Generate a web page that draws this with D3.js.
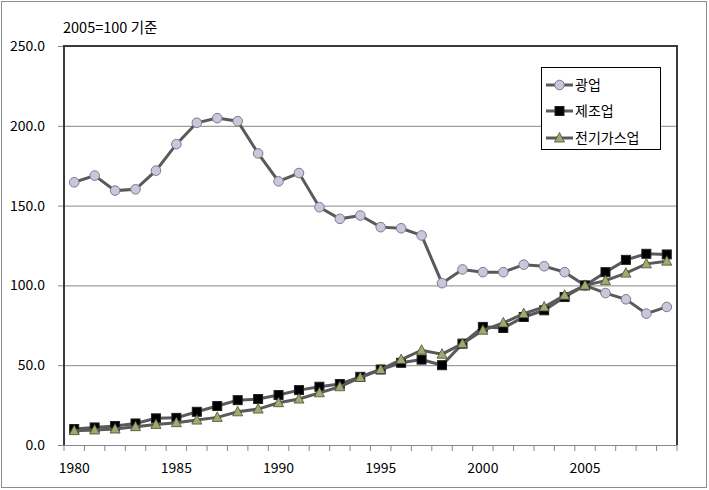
<!DOCTYPE html>
<html><head><meta charset="utf-8">
<script src="https://cdn.jsdelivr.net/npm/d3@7"></script>
<style>body{margin:0;background:#fff}text{font-family:"Noto Sans CJK KR","Noto Sans",sans-serif}</style>
</head><body><svg id="c" width="709" height="490"></svg>
<script>
const years = d3.range(1980, 2010);
const mining = [164.6,168.8,159.4,160.2,171.9,188.5,201.9,204.8,202.9,182.7,165.2,170.4,149,141.7,143.8,136.5,135.8,131.3,101.4,110,108.3,108.3,113,112,108.3,100,95.2,91.3,82.3,86.5];
const manufacturing = [10,11,11.9,13.5,16.7,17,20.8,24.4,28.1,28.8,31.3,34.4,36.5,38.2,42.7,47.3,51.5,53.5,50,63.5,74,73.3,80.2,84.4,92.7,100,108.3,116,119.8,119.4];
const electric = [9,9.4,10,11.5,12.9,14,15.6,17.3,20.8,22.5,26.5,28.8,32.7,36.5,42.3,47.3,53.5,59.4,56.9,63.5,71.9,76.5,82.3,86.5,93.8,100,103,107.7,113.5,115.2];
const yTicks = [0,50,100,150,200,250];
const xLabels = [1980,1985,1990,1995,2000,2005];
const seriesNames = ["광업","제조업","전기가스업"];

const svg = d3.select("#c");
const L=64, R=677, T=46, B=445;
svg.append("rect").attr("x",1.5).attr("y",1.5).attr("width",705).attr("height",486).attr("fill","#fff").attr("stroke","#8c8c8c").attr("stroke-width",1);

const x = d3.scaleBand().domain(years).range([L,R]);
const y = d3.scaleLinear().domain([0,250]).range([B,T]);

// gridlines
svg.append("g").selectAll("line").data(yTicks.filter(d=>d>0&&d<250)).join("line")
  .attr("x1",L).attr("x2",R).attr("y1",d=>y(d)+0.5).attr("y2",d=>y(d)+0.5)
  .attr("stroke","#888").attr("stroke-width",1);

// y axis
const ya = svg.append("g").attr("transform",`translate(${L},0)`)
  .call(d3.axisLeft(y).tickValues(yTicks).tickSize(6).tickPadding(13).tickFormat(d3.format(".1f")));
ya.select(".domain").remove();
ya.selectAll("line").attr("stroke","#888");
ya.selectAll("text").attr("font-size",14).attr("fill","#000");

// x axis
const xt = d3.scaleLinear().domain([0,30]).range([L,R]);
const xa = svg.append("g").attr("transform",`translate(0,${B})`);
xa.selectAll("line").data(d3.range(31)).join("line")
  .attr("x1",d=>xt(d)).attr("x2",d=>xt(d)).attr("y1",0).attr("y2",6).attr("stroke","#888");
xa.selectAll("text").data(xLabels).join("text")
  .attr("x",d=>x(d)+x.bandwidth()/2).attr("y",28).attr("text-anchor","middle")
  .attr("font-size",14).attr("fill","#000").text(d=>d);

// plot border
svg.append("line").attr("x1",L).attr("x2",R).attr("y1",B+0.5).attr("y2",B+0.5).attr("stroke","#888").attr("stroke-width",1);
svg.append("path").attr("d",`M${L},${B}V${T}H${R}V${B}`).attr("fill","none").attr("stroke","#3a3a3a").attr("stroke-width",2);

const cx = d=>x(d)+x.bandwidth()/2;
const line = d3.line().x((d,i)=>cx(years[i])).y(d=>y(d));
const lc = "#5a5a5a";

function drawSeries(vals, kind){
  const g = svg.append("g");
  g.append("path").datum(vals).attr("d",line).attr("fill","none").attr("stroke",lc).attr("stroke-width",3);
  drawMarkers(g, vals.map((v,i)=>[cx(years[i]),y(v)]), kind);
}
function drawMarkers(g, pts, kind){
  if(kind==="circle"){
    g.selectAll("circle").data(pts).join("circle").attr("cx",d=>d[0]).attr("cy",d=>d[1]).attr("r",4.8)
      .attr("fill","#c8c8dc").attr("stroke","#7a7a8a").attr("stroke-width",1);
  } else if(kind==="square"){
    g.selectAll("rect").data(pts).join("rect").attr("x",d=>d[0]-4.5).attr("y",d=>d[1]-4.5).attr("width",9).attr("height",9)
      .attr("fill","#000").attr("stroke","#222");
  } else {
    g.selectAll("path.m").data(pts).join("path").attr("class","m")
      .attr("d",d=>`M${d[0]},${d[1]-5.5}L${d[0]+5},${d[1]+4}L${d[0]-5},${d[1]+4}Z`)
      .attr("fill","#a4a86c").attr("stroke","#4a4a3a").attr("stroke-width",0.8);
  }
}
drawSeries(mining,"circle");
drawSeries(manufacturing,"square");
drawSeries(electric,"triangle");

// title
svg.append("text").attr("x",63).attr("y",33).attr("font-size",14.5).attr("fill","#000").text("2005=100 기준");

// legend
const lg = svg.append("g");
lg.append("rect").attr("x",541.5).attr("y",67.5).attr("width",119).attr("height",82).attr("fill","#fff").attr("stroke","#000");
const kinds=["circle","square","triangle"];
const ly=[85,111,138];
seriesNames.forEach((n,i)=>{
  lg.append("line").attr("x1",546).attr("x2",573).attr("y1",ly[i]).attr("y2",ly[i]).attr("stroke",lc).attr("stroke-width",3);
  drawMarkers(lg.append("g"), [[559.5,ly[i]]], kinds[i]);
  lg.append("text").attr("x",575).attr("y",ly[i]+5).attr("font-size",14).attr("fill","#000").text(n);
});
</script></body></html>
